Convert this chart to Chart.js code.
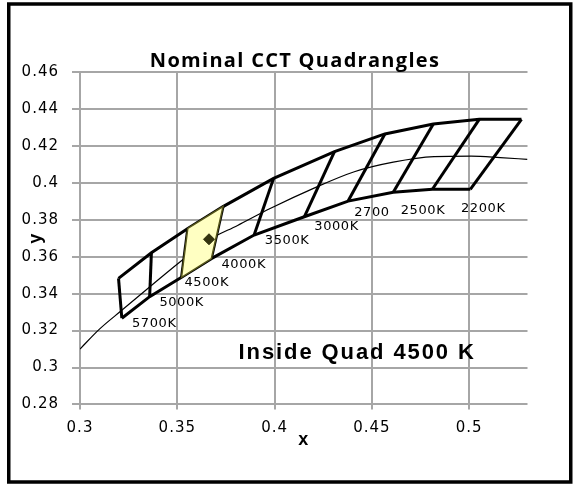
<!DOCTYPE html>
<html>
<head>
<meta charset="utf-8">
<title>Nominal CCT Quadrangles</title>
<script src="https://cdn.jsdelivr.net/npm/chart.js@4.4.1/dist/chart.umd.min.js"></script>
<style>
    html, body { margin: 0; padding: 0; background: #fff; }
    #wrap { position: relative; width: 573px; height: 486px; }
</style>
</head>
<body>
<div id="wrap"><canvas id="cct-chart"></canvas></div>
<script>
// quadrangle corners, from 5700K (left) to 2200K (right)
var topX = [0.3198, 0.3367, 0.3554, 0.3735, 0.3995, 0.4308, 0.4567, 0.4816, 0.5052, 0.5269];
var topY = [0.3483, 0.3622, 0.3754, 0.3872, 0.4025, 0.4170, 0.4266, 0.4320, 0.4345, 0.4345];
var bottomX = [0.3215, 0.3358, 0.3522, 0.3675, 0.3895, 0.4153, 0.4378, 0.4610, 0.4811, 0.5006];
var bottomY = [0.3267, 0.3384, 0.3489, 0.3590, 0.3718, 0.3817, 0.3902, 0.3950, 0.3966, 0.3966];

var cctLabels = ['5700K', '5000K', '4500K', '4000K', '3500K', '3000K', '2700', '2500K', '2200K'];
var labelX = [0.3267, 0.3408, 0.3537, 0.3727, 0.3950, 0.4204, 0.4409, 0.4648, 0.4958];
var labelY = [0.3221, 0.3331, 0.3440, 0.3539, 0.3671, 0.3747, 0.3823, 0.3834, 0.3843];

// black body locus
var locusX = [0.300, 0.310, 0.321, 0.337, 0.352, 0.366, 0.381, 0.398, 0.420, 0.441, 0.461, 0.482, 0.501, 0.516, 0.530];
var locusY = [0.3100, 0.3208, 0.3306, 0.3447, 0.3577, 0.3690, 0.3770, 0.3863, 0.3971, 0.4061, 0.4113, 0.4143, 0.4146, 0.4138, 0.4128];

var testX = [0.3663];
var testY = [0.3695];
var insideQuad = 2;   // 4500K
var insideText = 'Inside Quad 4500 K';
var titleText = 'Nominal CCT Quadrangles';

var xTicks = [0.3, 0.35, 0.4, 0.45, 0.5];
var yTicks = [0.28, 0.3, 0.32, 0.34, 0.36, 0.38, 0.4, 0.42, 0.44, 0.46];

function pt(x, y) { return { x: x, y: y }; }

var datasets = [];

datasets.push({
    label: 'Test point',
    data: testX.map(function(x, i) { return pt(x, testY[i]); }),
    showLine: false,
    pointStyle: 'rectRot',
    pointRadius: 5.5,
    backgroundColor: '#33330f',
    borderColor: '#33330f'
});

var q = insideQuad;
datasets.push({
    label: cctLabels[q],
    data: [pt(topX[q], topY[q]), pt(topX[q + 1], topY[q + 1]), pt(bottomX[q + 1], bottomY[q + 1]),
           pt(bottomX[q], bottomY[q]), pt(topX[q], topY[q])],
    showLine: true,
    fill: 'shape',
    backgroundColor: '#ffffc2',
    borderColor: '#55551a',
    borderWidth: 1.5,
    pointRadius: 0
});

datasets.push({
    label: 'Upper edge',
    data: topX.map(function(x, i) { return pt(x, topY[i]); }),
    showLine: true, borderColor: '#000', borderWidth: 3, pointRadius: 0
});
datasets.push({
    label: 'Lower edge',
    data: bottomX.map(function(x, i) { return pt(x, bottomY[i]); }),
    showLine: true, borderColor: '#000', borderWidth: 3, pointRadius: 0
});
for (var i = 0; i < topX.length; i++) {
    datasets.push({
        label: 'Side ' + i,
        data: [pt(topX[i], topY[i]), pt(bottomX[i], bottomY[i])],
        showLine: true, borderColor: '#000', borderWidth: 3, pointRadius: 0
    });
}

datasets.push({
    label: 'Planckian locus',
    data: locusX.map(function(x, i) { return pt(x, locusY[i]); }),
    showLine: true, borderColor: '#000', borderWidth: 1.2, pointRadius: 0,
    cubicInterpolationMode: 'monotone'
});

var textPlugin = {
    id: 'cctText',
    beforeDraw: function(chart) {
        chart.ctx.letterSpacing = '1px';
    },
    afterDatasetsDraw: function(chart) {
        var ctx = chart.ctx;
        var xs = chart.scales.x, ys = chart.scales.y;
        ctx.save();
        ctx.fillStyle = '#000';
        ctx.textAlign = 'left';
        ctx.textBaseline = 'alphabetic';
        ctx.letterSpacing = '0.6px';
        ctx.font = '13px "DejaVu Sans"';
        cctLabels.forEach(function(t, i) {
            ctx.fillText(t, xs.getPixelForValue(labelX[i]), ys.getPixelForValue(labelY[i]));
        });
        ctx.letterSpacing = '1.9px';
        ctx.font = 'bold 22px "Liberation Sans"';
        ctx.fillText(insideText, xs.getPixelForValue(0.3815), ys.getPixelForValue(0.3046));
        ctx.restore();
    },
    afterDraw: function(chart) {
        var ctx = chart.ctx;
        ctx.save();
        ctx.fillStyle = '#000';
        ctx.textAlign = 'center';
        ctx.textBaseline = 'alphabetic';
        ctx.letterSpacing = '1.3px';
        ctx.font = 'bold 20px "Open Sans"';
        ctx.fillText(titleText, 295, 67);
        ctx.strokeStyle = '#000';
        ctx.lineWidth = 3.5;
        ctx.strokeRect(8.75, 4, 562, 478);
        ctx.restore();
    }
};

var ctx = document.getElementById('cct-chart').getContext('2d');
new Chart(ctx, {
    type: 'scatter',
    data: { datasets: datasets },
    options: {
        responsive: true,
        maintainAspectRatio: false,
        animation: false,
        layout: { padding: { left: 10, right: 45.5, top: 72.3, bottom: 8 } },
        plugins: {
            legend: { display: false },
            tooltip: { enabled: false },
            title: { display: false }
        },
        scales: {
            x: {
                type: 'linear',
                min: 0.3,
                max: 0.53,
                afterBuildTicks: function(s) { s.ticks = xTicks.map(function(v) { return { value: v }; }); },
                afterFit: function(s) { s.height = 486 - 404.4 - 8; },
                grid: { color: '#a6a6a6', lineWidth: 2, tickLength: 5 },
                border: { display: false },
                ticks: {
                    color: '#000', padding: 10, maxRotation: 0, autoSkip: false,
                    font: { family: 'DejaVu Sans', size: 15 },
                    callback: function(v) { return String(v); }
                },
                title: {
                    display: true, text: 'x', color: '#000',
                    font: { family: 'Liberation Sans', size: 18, weight: 'bold' },
                    padding: { top: 0, bottom: 27 }
                }
            },
            y: {
                type: 'linear',
                min: 0.28,
                max: 0.46,
                afterBuildTicks: function(s) { s.ticks = yTicks.map(function(v) { return { value: v }; }); },
                afterFit: function(s) { s.width = 70; },
                grid: { color: '#a6a6a6', lineWidth: 2, tickLength: 8 },
                border: { display: false },
                ticks: {
                    color: '#000', padding: 13, autoSkip: false,
                    font: { family: 'DejaVu Sans', size: 15 },
                    callback: function(v) { return String(v); }
                },
                title: {
                    display: true, text: 'y', color: '#000',
                    font: { family: 'Liberation Sans', size: 18, weight: 'bold' },
                    padding: { top: 15, bottom: 0 }
                }
            }
        }
    },
    plugins: [textPlugin]
});
</script>
</body>
</html>
